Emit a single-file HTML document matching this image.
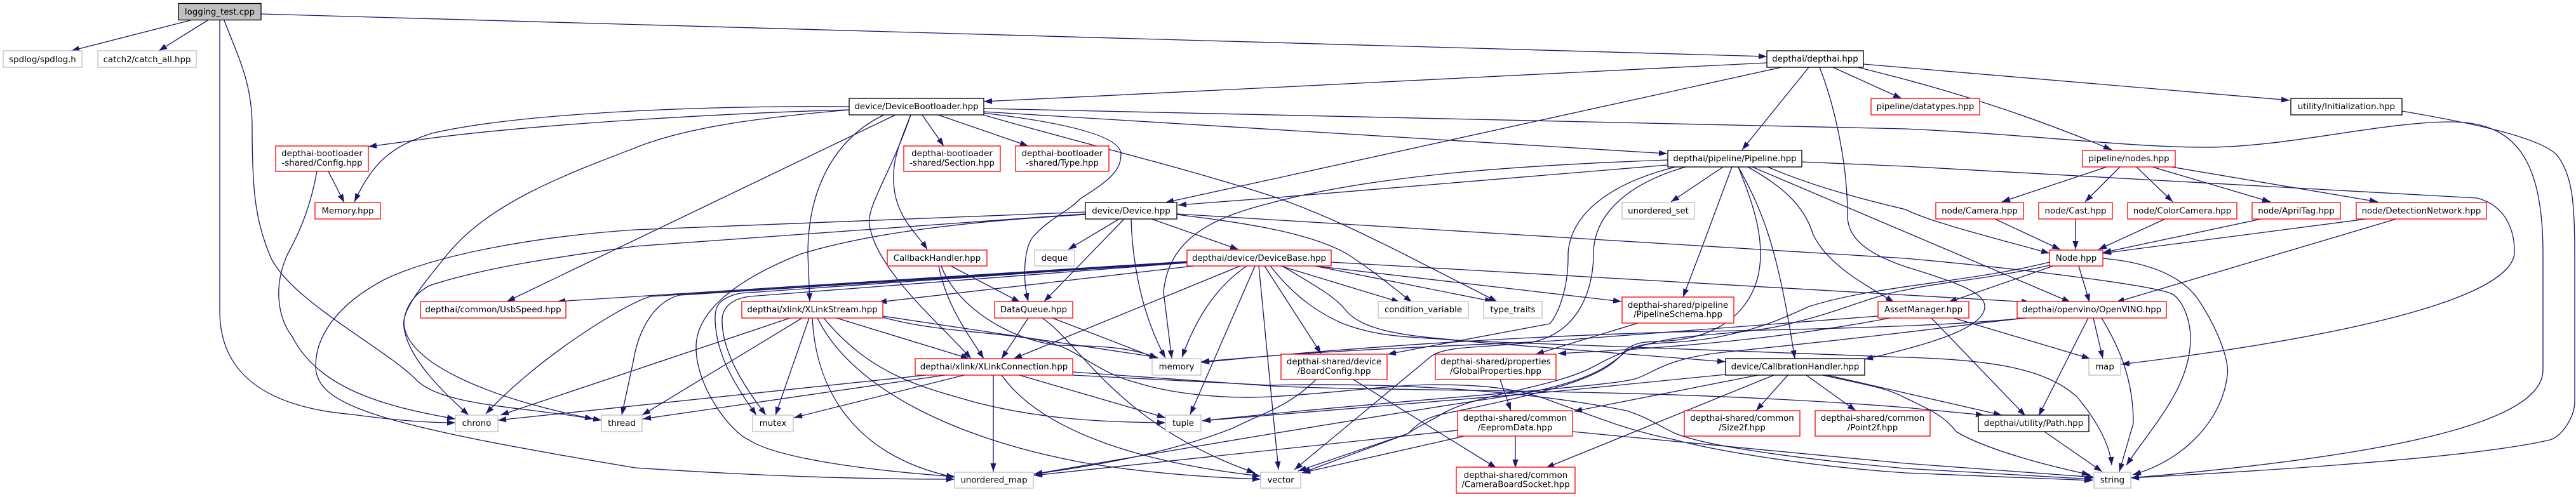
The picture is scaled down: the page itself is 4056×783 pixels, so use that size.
<!DOCTYPE html>
<html><head><meta charset="utf-8"><title>logging_test.cpp</title>
<style>html,body{margin:0;padding:0;background:#fff}svg{display:block}
text{font-family:"DejaVu Sans",sans-serif;font-size:13.33px;text-anchor:middle;fill:#000}</style></head>
<body>
<svg xmlns="http://www.w3.org/2000/svg" width="4056" height="783" viewBox="0 0 4056 783">
<defs><marker id="a" markerUnits="userSpaceOnUse" markerWidth="16" markerHeight="12" refX="13" refY="6" orient="auto" overflow="visible"><path d="M0,1.4 L13,6 L0,10.6 Z" fill="#191970" stroke="none"/></marker></defs>
<g fill="none" stroke="#191970" stroke-width="1.33" marker-end="url(#a)">
<path d="M300,32 L112,80"/>
<path d="M327,32 L250,80"/>
<path d="M411,22 L2782,89"/>
<path d="M346,32 V490 C346,575 400,640 555,653 C620,662 670,666 717,666"/>
<path d="M353,32 C375,90 397,130 397,200 C397,300 402,345 424,400 C450,470 610,550 657,600 C700,640 820,640 947,662"/>
<path d="M1337,168 C1150,166 830,175 680,210 C620,230 590,250 558,318"/>
<path d="M1337,173 C1150,178 850,195 676,218 L580,231"/>
<path d="M1337,173 C1200,185 1080,200 1000,233 C890,275 770,320 705,400 C660,455 632,490 636,515 C642,565 700,620 738,654"/>
<path d="M1410,181 L798,475"/>
<path d="M1392,181 C1320,215 1272,290 1272,400 L1275,475"/>
<path d="M1434,181 C1415,230 1400,260 1410,310 C1420,350 1445,370 1460,393"/>
<path d="M1434,181 C1400,280 1360,330 1370,360 C1385,430 1480,510 1529,565"/>
<path d="M1452,181 L1486,230"/>
<path d="M1477,181 L1619,230"/>
<path d="M1549,171 L3000,203 C3200,212 3350,232 3474,232 C3600,232 3750,192 3859,192 C3960,192 4004,250 4004,400 V583 C4004,660 3800,715 3355,753"/>
<path d="M1549,176 L2625,242"/>
<path d="M1548,178 C1650,190 1765,210 1765,243 C1765,270 1745,285 1701,313 C1680,335 1650,345 1625,375 C1612,395 1610,440 1619,475"/>
<path d="M1548,181 C1700,225 1850,260 2000,308 C2080,335 2150,370 2210,400 L2357,475"/>
<path d="M1709,334 L1000,362 C850,372 690,400 606,440 C530,480 497,530 497,577 C497,640 600,670 1000,737 C1200,750 1350,755 1503,755"/>
<path d="M1709,337 L1000,388 C900,402 765,420 676,450 C640,470 636,500 636,510 C640,570 760,625 934,660"/>
<path d="M1709,338 C1500,350 1360,370 1261,400 C1160,440 1096,490 1096,547 C1096,610 1150,680 1179,693 C1220,720 1350,740 1504,751"/>
<path d="M1762,345 L1682,393"/>
<path d="M1770,345 L1644,475"/>
<path d="M1781,345 C1783,420 1800,500 1835,564"/>
<path d="M1813,345 L1950,393"/>
<path d="M1853,337 L3000,407 C3200,425 3390,450 3420,463 C3440,475 3449,510 3449,533 C3449,610 3390,670 3348,733"/>
<path d="M1853,338 C1950,350 2060,365 2121,400 C2160,425 2190,450 2223,476"/>
<path d="M1869,412 L877,475"/>
<path d="M1869,413 L1025,467 C990,475 850,560 765,652"/>
<path d="M1869,414 L1070,465 C1030,475 1005,520 997,570 L979,654"/>
<path d="M1869,413 L1165,462 C1130,470 1126,485 1126,500 C1126,560 1160,610 1191,654"/>
<path d="M1869,414 L1180,467 C1145,472 1137,490 1137,505 C1137,560 1180,620 1206,654"/>
<path d="M1880,419 L1383,476"/>
<path d="M1953,419 L1596,565"/>
<path d="M1963,419 C1910,455 1880,510 1861,563"/>
<path d="M1976,419 L1874,653"/>
<path d="M1991,419 L2080,557"/>
<path d="M1982,419 C1995,560 2005,650 2013,740"/>
<path d="M2000,419 C2040,470 2080,495 2115,510 C2180,535 2240,530 2300,537 L2717,570"/>
<path d="M2019,419 C2070,450 2100,465 2120,490 C2150,525 2230,530 2306,537 L3000,563 C3135,567 3220,580 3270,625 C3300,660 3322,700 3325,733"/>
<path d="M2016,419 L2204,476"/>
<path d="M2070,419 L2351,475"/>
<path d="M2070,419 L2553,475"/>
<path d="M2096,413 L3196,476"/>
<path d="M1244,501 L788,654"/>
<path d="M1263,501 L1011,654"/>
<path d="M1274,501 L1221,654"/>
<path d="M1279,501 C1285,620 1350,720 1503,752"/>
<path d="M1287,501 C1340,610 1500,690 1701,728 C1800,745 1900,752 1985,755"/>
<path d="M1297,501 C1370,590 1450,610 1540,635 C1640,660 1730,665 1835,666"/>
<path d="M1317,501 L1526,565"/>
<path d="M1390,498 L1823,563"/>
<path d="M1390,500 C1500,530 1620,520 1680,550 C1720,570 1740,590 1790,603 C1860,625 1950,628 2000,625 C2100,620 2190,606 2260,606 C2350,606 2400,615 2446,633 C2520,660 2570,680 2638,693 C2700,710 2850,735 3000,745 L3295,757"/>
<path d="M1458,591 L784,662"/>
<path d="M1488,591 L1012,660"/>
<path d="M1518,591 L1250,658"/>
<path d="M1564,591 V743"/>
<path d="M1577,591 C1640,680 1800,730 1985,750"/>
<path d="M1605,591 L1835,658"/>
<path d="M1689,586 L2000,608 C2200,618 2600,610 3000,642 L3124,654"/>
<path d="M1689,591 L2000,607 C2150,603 2380,610 2561,647 C2600,660 2610,670 2638,683 C2680,700 2800,720 3000,738 L3295,755"/>
<path d="M1619,501 L1577,565"/>
<path d="M1657,501 L1823,565"/>
<path d="M1641,501 C1700,540 1760,670 1976,745"/>
<path d="M1497,419 L1606,476"/>
<path d="M1478,419 C1490,480 1520,520 1549,565"/>
<path d="M1482,419 C1500,470 1570,530 1663,544 C1720,545 1780,545 1823,565"/>
<path d="M517,270 L542,319"/>
<path d="M499,270 C490,320 475,360 453,400 C430,450 437,500 460,530 C500,610 600,640 717,660"/>
<path d="M2782,99 L2000,138 L1549,160"/>
<path d="M2805,106 L2000,283 L1835,319"/>
<path d="M2848,106 L2743,236"/>
<path d="M2865,106 C2890,170 2909,260 2909,340 C2909,375 2940,400 3000,420 C3080,445 3125,460 3125,483 C3125,515 3050,540 2936,566"/>
<path d="M2886,106 L2994,155"/>
<path d="M2934,101 L3605,158"/>
<path d="M2925,106 C3000,125 3135,157 3325,236"/>
<path d="M3782,175 C3900,195 4015,220 4030,250 C4050,280 4054,320 4054,400 V633 C4054,660 4030,690 4015,693 C3900,720 3600,740 3355,753"/>
<path d="M2625,260 L2000,312 L1855,323"/>
<path d="M2626,252 C2350,262 2150,280 2000,320 C1900,345 1840,380 1832,460 L1845,565"/>
<path d="M2638,263 C2530,290 2472,340 2469,400 C2470,460 2450,500 2440,510 L2185,558"/>
<path d="M2654,263 C2560,290 2509,340 2509,400 C2509,450 2490,525 2408,540 C2330,548 2280,545 2255,560 L2038,740"/>
<path d="M2737,263 C2760,320 2772,360 2772,400 C2772,460 2740,510 2670,530 C2610,545 2590,530 2561,550 C2530,590 2480,610 2268,653 C2240,660 2230,670 2217,683 L2044,742"/>
<path d="M2713,263 L2631,318"/>
<path d="M2727,263 L2676,400 L2650,468"/>
<path d="M2737,263 C2780,340 2800,400 2826,565"/>
<path d="M2752,263 C2800,290 2840,320 2855,370 C2880,420 2940,450 2982,476"/>
<path d="M2759,263 L3260,476"/>
<path d="M2783,263 C2870,300 2960,320 3000,330 C3040,350 3140,375 3227,399"/>
<path d="M2837,255 L3000,262 L3900,312 C3950,325 3960,370 3959,400 C3950,470 3700,530 3340,574"/>
<path d="M3317,263 L3152,318"/>
<path d="M3338,263 L3283,318"/>
<path d="M3364,263 L3421,318"/>
<path d="M3389,263 L3575,318"/>
<path d="M3419,263 L3744,318"/>
<path d="M3141,345 L3244,393"/>
<path d="M3268,345 V393"/>
<path d="M3409,345 L3304,393"/>
<path d="M3560,345 L3311,398"/>
<path d="M3726,345 L3311,399"/>
<path d="M3773,345 L3332,476"/>
<path d="M3273,419 L3290,476"/>
<path d="M3233,419 L3068,476"/>
<path d="M3311,407 C3400,415 3440,443 3460,470 C3500,530 3510,577 3507,590 C3500,660 3440,725 3358,748"/>
<path d="M3227,413 C3100,445 2950,450 2848,483 C2790,510 2760,520 2700,532 C2620,545 2590,535 2561,553 C2530,580 2500,600 2400,620 C2200,650 1900,700 1628,747"/>
<path d="M3227,418 C3130,440 3050,445 3000,457 C2950,465 2900,490 2829,507 C2770,525 2690,525 2638,533 C2590,540 2550,555 2510,577 C2450,610 2330,620 2274,650 C2250,665 2235,670 2217,683 L2050,745"/>
<path d="M2957,498 L2446,537 C2300,545 2100,550 1891,570"/>
<path d="M2976,501 C2850,525 2700,545 2453,557"/>
<path d="M3190,501 C3100,510 3000,516 2638,523 C2400,530 2150,545 1891,571"/>
<path d="M3190,501 C3100,510 3050,520 2714,555 C2620,565 2600,590 2574,597 C2530,610 2200,630 1893,663"/>
<path d="M3076,501 L3291,565"/>
<path d="M3041,501 L3189,655"/>
<path d="M3296,501 L3311,565"/>
<path d="M3288,501 L3210,655"/>
<path d="M3309,501 C3345,560 3359,610 3359,667 L3337,743"/>
<path d="M3219,680 L3310,743"/>
<path d="M2717,590 L2446,617 L1893,663"/>
<path d="M2768,591 L2478,648"/>
<path d="M2793,591 L2434,737"/>
<path d="M2815,591 L2765,647"/>
<path d="M2844,591 L2922,647"/>
<path d="M2877,591 L3152,654"/>
<path d="M2870,591 C2930,605 2970,610 3000,627 C3050,650 3065,660 3080,680 C3130,710 3230,735 3291,748"/>
<path d="M2579,509 L2418,558"/>
<path d="M2362,598 L2379,647"/>
<path d="M2386,687 V737"/>
<path d="M2131,598 L2356,737"/>
<path d="M2072,598 C2030,640 1990,650 1940,675 C1850,710 1750,730 1628,747"/>
<path d="M2295,678 L1628,749"/>
<path d="M2306,687 L2050,745"/>
<path d="M2476,680 L3000,730 L3298,752"/>
</g>
<g stroke-width="1.33" fill="#fff">
<g stroke="#000"><rect x="281" y="5.5" width="130" height="26" fill="#bfbfbf"/><rect x="1337" y="155" width="212" height="26"/><rect x="1709" y="319" width="144" height="26"/><rect x="2782" y="80" width="152" height="26"/><rect x="2626" y="237" width="211" height="26"/><rect x="3607" y="155" width="175" height="26"/><rect x="2717" y="565" width="219" height="26"/><rect x="3115" y="654" width="174" height="26"/></g>
<g stroke="#bfbfbf"><rect x="5" y="80" width="124" height="26"/><rect x="154" y="80" width="155" height="26"/><rect x="717" y="654" width="67" height="26"/><rect x="947" y="654" width="64" height="26"/><rect x="1629" y="394" width="63" height="25"/><rect x="1814" y="565" width="77" height="26"/><rect x="1185" y="654" width="64" height="26"/><rect x="1835" y="654" width="56" height="26"/><rect x="1503" y="744" width="124" height="25"/><rect x="1985" y="744" width="63" height="25"/><rect x="2554" y="319" width="114" height="26"/><rect x="3289" y="565" width="50" height="26"/><rect x="3297" y="744" width="58" height="25"/><rect x="2170" y="475" width="142" height="26"/><rect x="2336" y="475" width="92" height="26"/></g>
<g stroke="#f00"><rect x="434" y="230" width="146" height="40"/><rect x="496" y="319" width="103" height="26"/><rect x="662" y="475" width="229" height="26"/><rect x="1423" y="230" width="152" height="40"/><rect x="1599" y="230" width="147" height="40"/><rect x="1397" y="394" width="157" height="25"/><rect x="1869" y="394" width="227" height="25"/><rect x="1168" y="475" width="222" height="26"/><rect x="1566" y="475" width="123" height="26"/><rect x="1441" y="565" width="248" height="26"/><rect x="2946" y="155" width="171" height="26"/><rect x="3279" y="237" width="146" height="26"/><rect x="3048" y="319" width="138" height="26"/><rect x="3210" y="319" width="116" height="26"/><rect x="3350" y="319" width="172" height="26"/><rect x="3546" y="319" width="139" height="26"/><rect x="3710" y="319" width="205" height="26"/><rect x="3227" y="394" width="84" height="25"/><rect x="2957" y="475" width="143" height="26"/><rect x="3176" y="475" width="235" height="26"/><rect x="2554" y="468" width="176" height="41"/><rect x="2017" y="558" width="167" height="40"/><rect x="2260" y="558" width="190" height="40"/><rect x="2295" y="647" width="181" height="40"/><rect x="2652" y="647" width="182" height="40"/><rect x="2858" y="647" width="181" height="40"/><rect x="2293" y="736" width="187" height="41"/></g>
</g>
<text x="346" y="23">logging_test.cpp</text>
<text x="67" y="98">spdlog/spdlog.h</text>
<text x="231.5" y="98">catch2/catch_all.hpp</text>
<text x="507" y="246">depthai-bootloader</text><text x="507" y="261">-shared/Config.hpp</text>
<text x="547.5" y="336.5">Memory.hpp</text>
<text x="776.5" y="492">depthai/common/UsbSpeed.hpp</text>
<text x="750.5" y="671">chrono</text>
<text x="979" y="671">thread</text>
<text x="1443" y="172">device/DeviceBootloader.hpp</text>
<text x="1499" y="246">depthai-bootloader</text><text x="1499" y="261">-shared/Section.hpp</text>
<text x="1672.5" y="246">depthai-bootloader</text><text x="1672.5" y="261">-shared/Type.hpp</text>
<text x="1781" y="336.5">device/Device.hpp</text>
<text x="1475.5" y="411">CallbackHandler.hpp</text>
<text x="1660.5" y="411">deque</text>
<text x="1982.5" y="411">depthai/device/DeviceBase.hpp</text>
<text x="1279" y="492">depthai/xlink/XLinkStream.hpp</text>
<text x="1627.5" y="492">DataQueue.hpp</text>
<text x="1565" y="582">depthai/xlink/XLinkConnection.hpp</text>
<text x="1852.5" y="582">memory</text>
<text x="1217" y="671">mutex</text>
<text x="1863" y="671">tuple</text>
<text x="1565" y="760.5">unordered_map</text>
<text x="2016.5" y="760.5">vector</text>
<text x="2858" y="97">depthai/depthai.hpp</text>
<text x="2731.5" y="254">depthai/pipeline/Pipeline.hpp</text>
<text x="2611" y="336.5">unordered_set</text>
<text x="3031.5" y="172">pipeline/datatypes.hpp</text>
<text x="3694.5" y="172">utility/Initialization.hpp</text>
<text x="3352" y="254">pipeline/nodes.hpp</text>
<text x="3117" y="336.5">node/Camera.hpp</text>
<text x="3268" y="336.5">node/Cast.hpp</text>
<text x="3436" y="336.5">node/ColorCamera.hpp</text>
<text x="3615.5" y="336.5">node/AprilTag.hpp</text>
<text x="3812.5" y="336.5">node/DetectionNetwork.hpp</text>
<text x="3269" y="411">Node.hpp</text>
<text x="3028.5" y="492">AssetManager.hpp</text>
<text x="3293.5" y="492">depthai/openvino/OpenVINO.hpp</text>
<text x="3314" y="582">map</text>
<text x="3202" y="671">depthai/utility/Path.hpp</text>
<text x="3326" y="760.5">string</text>
<text x="2241" y="492">condition_variable</text>
<text x="2382" y="492">type_traits</text>
<text x="2642" y="485">depthai-shared/pipeline</text><text x="2642" y="499.5">/PipelineSchema.hpp</text>
<text x="2100.5" y="574">depthai-shared/device</text><text x="2100.5" y="589">/BoardConfig.hpp</text>
<text x="2355" y="574">depthai-shared/properties</text><text x="2355" y="589">/GlobalProperties.hpp</text>
<text x="2826.5" y="582">device/CalibrationHandler.hpp</text>
<text x="2385.5" y="663">depthai-shared/common</text><text x="2385.5" y="678">/EepromData.hpp</text>
<text x="2743" y="663">depthai-shared/common</text><text x="2743" y="678">/Size2f.hpp</text>
<text x="2948.5" y="663">depthai-shared/common</text><text x="2948.5" y="678">/Point2f.hpp</text>
<text x="2386.5" y="753">depthai-shared/common</text><text x="2386.5" y="767.5">/CameraBoardSocket.hpp</text>
</svg>
</body></html>
